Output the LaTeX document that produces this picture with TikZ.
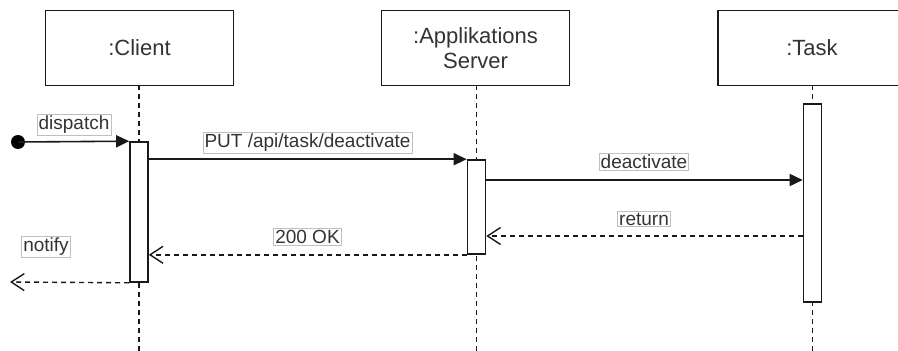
\documentclass[tikz,border=0pt]{standalone}
\usepackage{fontspec}
\setmainfont{Liberation Sans}
\usetikzlibrary{arrows.meta}

\tikzset{
  x=1pt, y=-1pt,
  every node/.style={text=black!80},
  lifebox/.style={draw=black!90, line width=1.7pt, fill=white, minimum width=188pt,
    minimum height=75pt, align=center, font=\fontsize{22}{26}\selectfont, inner sep=0pt},
  actbar/.style={draw=black!90, line width=1.6pt, fill=white, minimum width=18pt, inner sep=0pt},
  lifeline/.style={draw=black!90, line width=1.5pt, dash pattern=on 5pt off 4pt},
  msglabel/.style={draw=black!25, line width=0.7pt, fill=white, inner sep=1.5pt,
    font=\fontsize{19}{22}\selectfont},
  callmsg/.style={draw=black!90, line width=1.6pt, -{Triangle[length=13pt,width=12pt]}},
  replymsg/.style={draw=black!90, line width=1.4pt, dash pattern=on 5pt off 4pt,
    -{Straight Barb[length=13pt,width=17pt,line width=1.4pt]}},
}

\begin{document}
\begin{tikzpicture}
  \useasboundingbox (0,0) rectangle (898,351);
  \begin{scope}
    \clip (0,0) rectangle (898,351);

    % lifelines
    \draw[lifeline] (139,85) -- (139,351);
    \draw[lifeline] (476.5,85) -- (476.5,351);
    \draw[lifeline] (812.5,85) -- (812.5,351);

    % participant heads
    \node[lifebox] (client) at (139.5,48) {:Client};
    \node[lifebox] (server) at (475.5,48) {:Applikations\\[-1pt]Server};
    \node[lifebox] (task) at (812,48) {:Task};

    % activation bars
    \node[actbar, minimum height=140pt] (cact) at (139,212) {};
    \node[actbar, minimum height=94pt] (sact) at (476.5,207) {};
    \node[actbar, minimum height=198pt] (tact) at (812.5,203) {};
  \end{scope}

  % message end points
  \coordinate (start) at (18,142);
  \coordinate (deact) at (0,180);
  \coordinate (ret) at (0,236);
  \coordinate (out) at (10,282);

  % found message: dispatch
  \fill[black] (start) circle (7pt);
  \draw[callmsg] (start) -- (cact.north west);
  \node[msglabel] (dispatchlbl) at (74,125) {dispatch};

  % PUT request
  \draw[callmsg] (cact.east |- sact.north) -- (sact.north west);
  \node[msglabel] (putlbl) at (307.5,143) {PUT /api/task/deactivate};

  % deactivate call
  \draw[callmsg] (sact.east |- deact) -- (tact.west |- deact);
  \node[msglabel] (deactlbl) at (644,162) {deactivate};

  % return from task
  \draw[replymsg] (tact.west |- ret) -- (sact.east |- ret);
  \node[msglabel] (retlbl) at (644,219) {return};

  % 200 OK reply
  \draw[replymsg] (sact.south west) -- (cact.east |- sact.south);
  \node[msglabel] (oklbl) at (307.5,237) {200 OK};

  % notify back out
  \draw[replymsg] (cact.south west) -- (out);
  \node[msglabel] (notifylbl) at (46,247) {notify};
\end{tikzpicture}
\end{document}
